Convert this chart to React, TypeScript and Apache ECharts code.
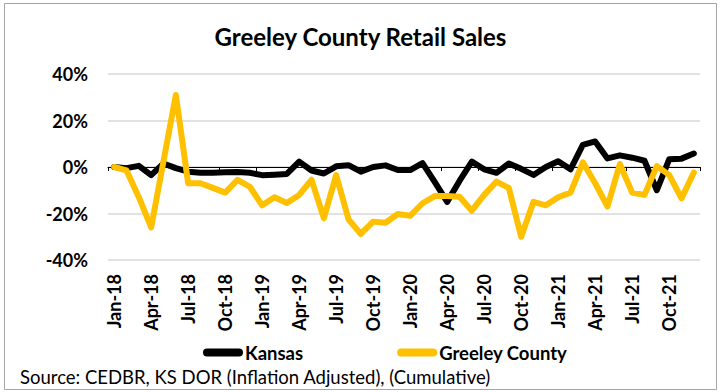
import React, { useEffect, useRef } from "react";
import * as echarts from "echarts";

// Monthly categories, Jan-18 through Dec-21
const months = [
  "Jan-18", "Feb-18", "Mar-18", "Apr-18", "May-18", "Jun-18", "Jul-18", "Aug-18", "Sep-18", "Oct-18", "Nov-18", "Dec-18",
  "Jan-19", "Feb-19", "Mar-19", "Apr-19", "May-19", "Jun-19", "Jul-19", "Aug-19", "Sep-19", "Oct-19", "Nov-19", "Dec-19",
  "Jan-20", "Feb-20", "Mar-20", "Apr-20", "May-20", "Jun-20", "Jul-20", "Aug-20", "Sep-20", "Oct-20", "Nov-20", "Dec-20",
  "Jan-21", "Feb-21", "Mar-21", "Apr-21", "May-21", "Jun-21", "Jul-21", "Aug-21", "Sep-21", "Oct-21", "Nov-21", "Dec-21",
];

// Cumulative change in retail sales, percent
const kansas = [
  0, -0.5, 0.5, -3.5, 1.5, -0.5, -2, -2.5, -2.5, -2.3, -2.2, -2.5,
  -3.5, -3.3, -3, 2.3, -1.5, -2.8, 0.3, 0.8, -2, 0, 0.7, -1.3,
  -1.3, 1.7, -6.5, -15, -6, 2.3, -1, -2.5, 1.5, -0.8, -3.4, 0,
  2.5, -1, 9.5, 11, 3.7, 5, 4, 2.7, -10, 3.3, 3.6, 5.8,
];

const greeley = [
  0, -1.5, -13, -26, 2.5, 31, -7, -7, -9, -11, -5.5, -8.5,
  -16.5, -13, -15.5, -12, -5.5, -22, -3.5, -22.5, -28.8, -23.5, -24, -20.2,
  -21, -15.6, -12.5, -12.5, -12.8, -18.8, -12, -6.3, -9, -30, -15, -16.5,
  -13, -11, 2, -7, -17, 1.3, -11, -12, 0.4, -3.4, -13.5, -2.4,
];

const yTicks = { min: -40, max: 40, step: 20 };

const FONT = "Lato, 'Noto Sans', sans-serif";

export default function App() {
  const ref = useRef<HTMLDivElement>(null);

  useEffect(() => {
    if (!ref.current) return;
    const chart = echarts.init(ref.current, null, { renderer: "svg" });
    const capsule = "path://M4,0 H36 A4,4 0 0 1 36,8 H4 A4,4 0 0 1 4,0 Z";
    chart.setOption({
      animation: false,
      backgroundColor: "#ffffff",
      textStyle: { fontFamily: FONT },
      title: {
        text: "Greeley County Retail Sales",
        left: "center",
        top: 19,
        textStyle: { fontFamily: FONT, fontSize: 24, fontWeight: "bold", color: "#000" },
      },
      legend: {
        left: 198,
        top: 338,
        itemWidth: 40,
        itemHeight: 8,
        itemGap: 94,
        textStyle: { fontFamily: FONT, fontSize: 18.5, fontWeight: "bold", color: "#000", padding: [0, 0, 0, -3] },
        data: [
          { name: "Kansas", icon: capsule, itemStyle: { color: "#000000" } },
          { name: "Greeley County", icon: capsule, itemStyle: { color: "#FFC000" } },
        ],
      },
      grid: { left: 108, right: 21, top: 74, bottom: 132, containLabel: false },
      xAxis: [
        {
          type: "category",
          data: months,
          boundaryGap: true,
          position: "bottom",
          axisLine: { show: false, onZero: false },
          axisTick: { show: false },
          axisLabel: {
            interval: 2,
            rotate: 90,
            margin: 14,
            color: "#000",
            fontFamily: FONT,
            fontSize: 18,
            fontWeight: "bold",
          },
          splitLine: { show: false },
        },
        {
          type: "category",
          data: months,
          boundaryGap: true,
          position: "bottom",
          axisLine: { show: true, onZero: true, lineStyle: { color: "#000", width: 1 } },
          axisTick: { show: true, interval: 2, length: 4, lineStyle: { color: "#000" } },
          axisLabel: { show: false },
          splitLine: { show: false },
        },
      ],
      yAxis: {
        type: "value",
        min: yTicks.min,
        max: yTicks.max,
        interval: yTicks.step,
        axisLine: { show: false },
        axisTick: { show: false },
        axisLabel: {
          margin: 20,
          color: "#000",
          fontFamily: FONT,
          fontSize: 18,
          fontWeight: "bold",
          formatter: (v: number) => `${v}%`,
        },
        splitLine: { lineStyle: { color: "#d9d9d9", width: 1.5 } },
      },
      series: [
        {
          name: "Kansas",
          type: "line",
          data: kansas,
          xAxisIndex: 0,
          symbol: "none",
          lineStyle: { color: "#000000", width: 6, join: "round", cap: "round" },
          itemStyle: { color: "#000000" },
        },
        {
          name: "Greeley County",
          type: "line",
          data: greeley,
          xAxisIndex: 0,
          symbol: "none",
          lineStyle: { color: "#FFC000", width: 6, join: "round", cap: "round" },
          itemStyle: { color: "#FFC000" },
        },
      ],
      graphic: [
        {
          type: "rect",
          shape: { x: 4.5, y: 3.5, width: 712, height: 386 },
          style: { fill: "none", stroke: "#a6a6a6", lineWidth: 1 },
          silent: true,
        },
        {
          type: "text",
          left: 20,
          top: 367,
          style: {
            text: "Source: CEDBR, KS DOR (Inflation Adjusted), (Cumulative)",
            fontFamily: FONT,
            fontSize: 18.5,
            fill: "#000",
          },
        },
      ],
    });
    return () => chart.dispose();
  }, []);

  return (
    <div
      ref={ref}
      style={{ position: "absolute", left: 0, top: 0, width: 721, height: 392 }}
    />
  );
}
